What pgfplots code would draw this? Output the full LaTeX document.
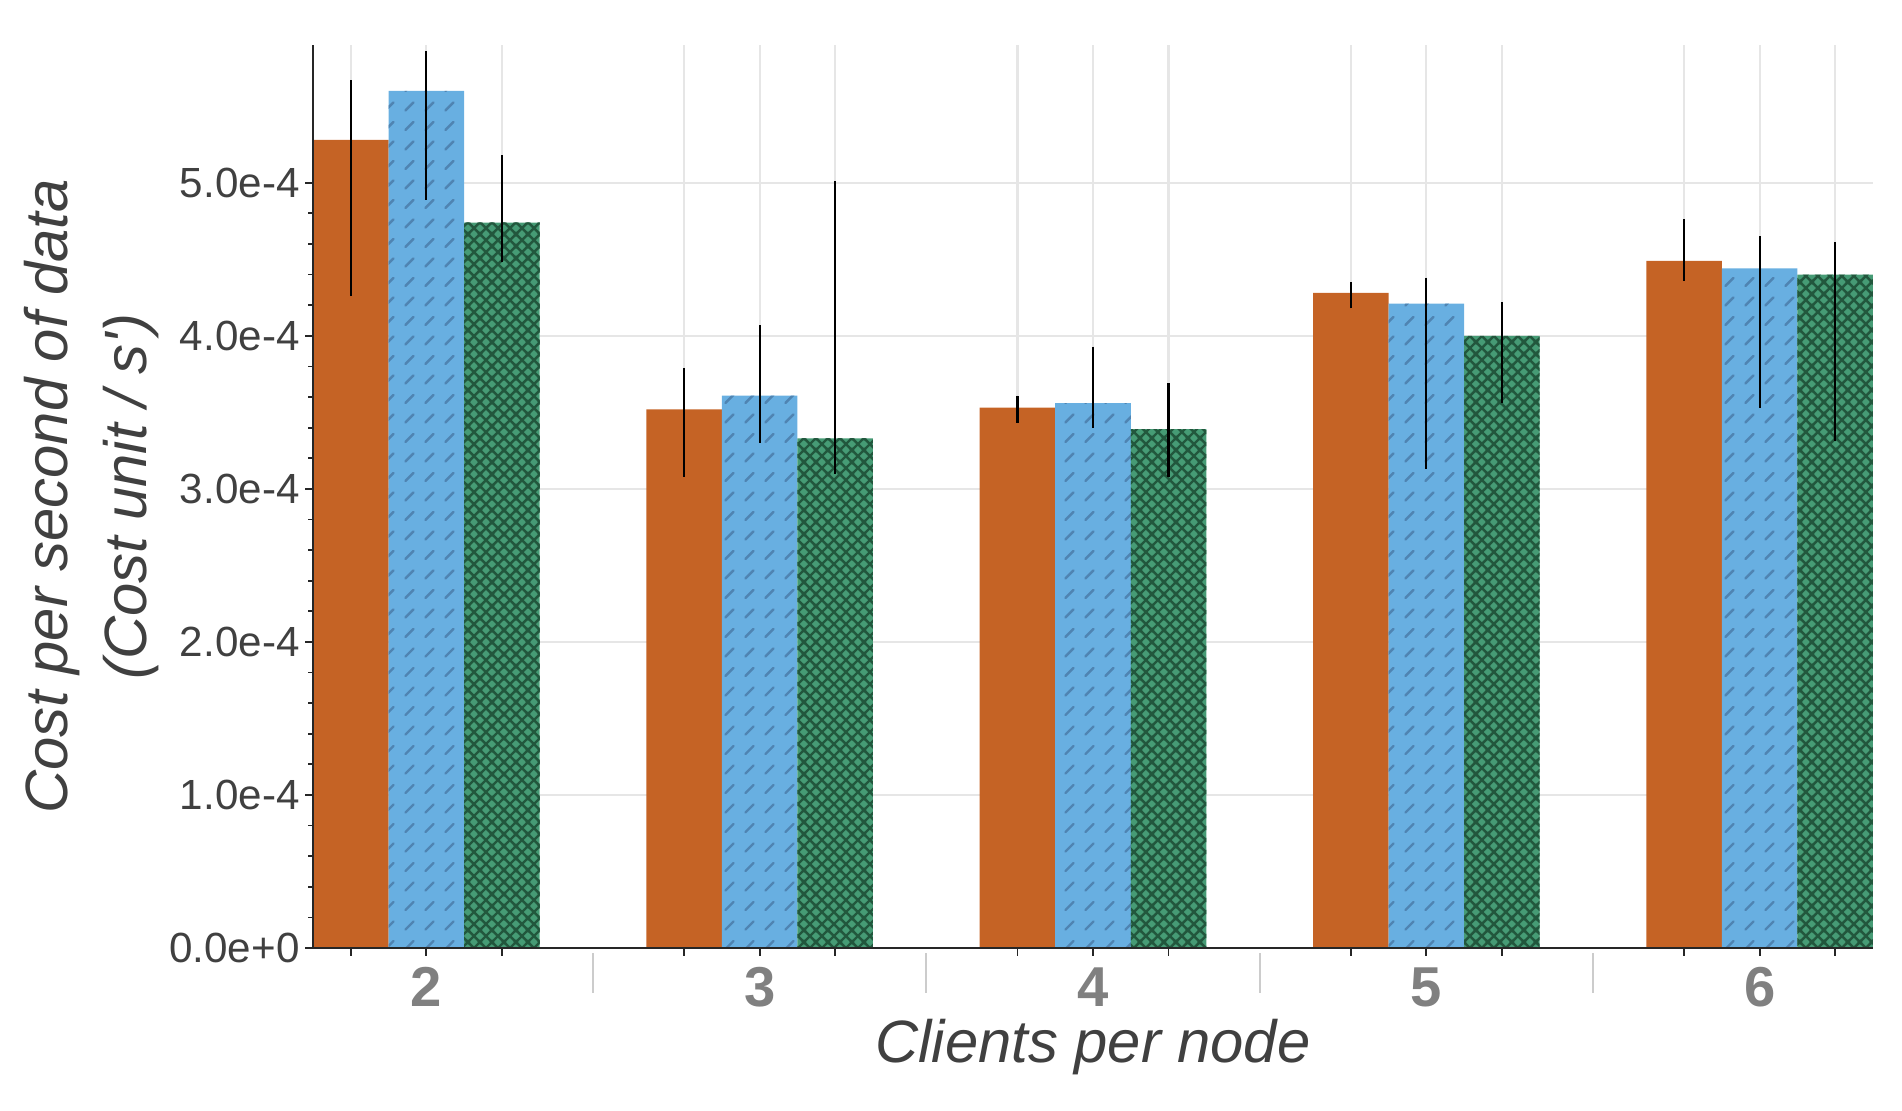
\documentclass[border=0pt]{standalone}
\usepackage{fontspec}
\setmainfont{Liberation Sans}
\usepackage{pgfplots}
\pgfplotsset{compat=1.18}
\usetikzlibrary{patterns}

\definecolor{corange}{HTML}{C56325}
\definecolor{cblue}{HTML}{68AFE1}
\definecolor{cgreen}{HTML}{469B75}
\definecolor{bluehatch}{HTML}{4F84B2}
\definecolor{greenhatch}{HTML}{22573D}
\definecolor{gridgray}{HTML}{E6E6E6}
\definecolor{sepgray}{HTML}{CCCCCC}
\definecolor{txtgray}{HTML}{404040}
\definecolor{grplabel}{HTML}{808080}

% short "/" dashes on the blue bars
\pgfdeclarepatternformonly{slashdash}{\pgfqpoint{-1pt}{-1pt}}{\pgfpoint{0.21cm}{0.21cm}}{\pgfpoint{0.2cm}{0.195cm}}{%
  \pgfsetlinewidth{0.7pt}\pgfsetroundcap
  \pgfpathmoveto{\pgfpoint{0.055cm}{0.05cm}}
  \pgfpathlineto{\pgfpoint{0.135cm}{0.13cm}}
  \pgfusepath{stroke}}

% diagonal cross hatch on the green bars
\pgfdeclarepatternformonly{xhatch}{\pgfqpoint{-1pt}{-1pt}}{\pgfpoint{0.12cm+1pt}{0.12cm+1pt}}{\pgfpoint{0.12cm}{0.12cm}}{%
  \pgfsetlinewidth{0.7pt}
  \pgfpathmoveto{\pgfpoint{-0.5pt}{-0.5pt}}
  \pgfpathlineto{\pgfpoint{0.12cm+0.5pt}{0.12cm+0.5pt}}
  \pgfpathmoveto{\pgfpoint{-0.5pt}{0.12cm+0.5pt}}
  \pgfpathlineto{\pgfpoint{0.12cm+0.5pt}{-0.5pt}}
  \pgfusepath{stroke}}

\pgfplotsset{
  errs/.style={error bars/.cd, y dir=both, y explicit, error mark=none,
    error bar style={line width=0.6pt, black}},
}

\begin{document}
\begin{tikzpicture}
\useasboundingbox (-3.13,-1.62) rectangle (15.89,9.48);
\begin{axis}[
    at={(0,0)}, anchor=south west,
    scale only axis,
    width=15.6cm, height=9.03cm,
    xmin=1.66, xmax=6.34,
    ymin=0, ymax=5.9e-4,
    axis lines*=left,
    axis line style={line width=0.6pt, draw=black!85},
    tick align=outside,
    tick style={line width=0.5pt, black!85},
    major tick length=0.075cm,
    minor tick length=0.045cm,
    xtick={1.7734,2,2.2266,2.7734,3,3.2266,3.7734,4,4.2266,4.7734,5,5.2266,5.7734,6,6.2266},
    xticklabels={},
    ytick={0,1e-4,2e-4,3e-4,4e-4,5e-4},
    yticklabels={0.0e+0,1.0e-4,2.0e-4,3.0e-4,4.0e-4,5.0e-4},
    scaled y ticks=false,
    minor y tick num=4,
    xmajorgrids, ymajorgrids,
    major grid style={line width=0.6pt, draw=gridgray},
    yticklabel style={font=\fontsize{12}{14}\selectfont, text=txtgray, inner xsep=1.5pt},
    ylabel={Cost per second of data\\(Cost unit / s\textquotesingle)},
    ylabel style={font=\itshape\fontsize{17}{22.5}\selectfont, text=txtgray, align=center,
      at={(axis description cs:-0.1417,0.5)}, anchor=center},
    xlabel={Clients per node},
    xlabel style={font=\itshape\fontsize{17}{20}\selectfont, text=txtgray,
      at={(axis description cs:0.5,0)}, anchor=base, yshift=-1.14cm},
    clip=false,
]

% series 1 (orange), left bar of each group
\addplot[ybar, bar width=0.2266, bar shift=0, fill=corange, draw=none, errs]
coordinates {
  (1.7734,5.28e-4) += (0,0.39e-4) -= (0,1.02e-4)
  (2.7734,3.52e-4) += (0,0.27e-4) -= (0,0.44e-4)
  (3.7734,3.53e-4) += (0,0.08e-4) -= (0,0.10e-4)
  (4.7734,4.28e-4) += (0,0.07e-4) -= (0,0.10e-4)
  (5.7734,4.49e-4) += (0,0.27e-4) -= (0,0.13e-4)
};

% series 2 (blue, dashed hatch), middle bar
\addplot[ybar, bar width=0.2266, bar shift=0, fill=cblue, draw=none,
  postaction={pattern=slashdash, pattern color=bluehatch}, errs]
coordinates {
  (2,5.60e-4) += (0,0.26e-4) -= (0,0.71e-4)
  (3,3.61e-4) += (0,0.46e-4) -= (0,0.31e-4)
  (4,3.56e-4) += (0,0.37e-4) -= (0,0.16e-4)
  (5,4.21e-4) += (0,0.17e-4) -= (0,1.08e-4)
  (6,4.44e-4) += (0,0.21e-4) -= (0,0.91e-4)
};

% series 3 (green, cross hatch), right bar
\addplot[ybar, bar width=0.2266, bar shift=0, fill=cgreen, draw=none,
  postaction={pattern=xhatch, pattern color=greenhatch}, errs]
coordinates {
  (2.2266,4.74e-4) += (0,0.44e-4) -= (0,0.26e-4)
  (3.2266,3.33e-4) += (0,1.68e-4) -= (0,0.23e-4)
  (4.2266,3.39e-4) += (0,0.30e-4) -= (0,0.31e-4)
  (5.2266,4.00e-4) += (0,0.22e-4) -= (0,0.44e-4)
  (6.2266,4.40e-4) += (0,0.21e-4) -= (0,1.09e-4)
};

% group labels and separators under the axis
\pgfplotsinvokeforeach{2,3,4,5,6}{
  \node[anchor=base, font=\bfseries\fontsize{16}{18}\selectfont, text=grplabel, yshift=-0.58cm]
    at (axis cs:#1,0) {#1};
}
\pgfplotsinvokeforeach{2.5,3.5,4.5,5.5}{
  \draw[sepgray, line width=0.6pt] ([yshift=-0.05cm]axis cs:#1,0) -- ([yshift=-0.45cm]axis cs:#1,0);
}

% spines on top of the bars
\draw[line width=0.6pt, black!85] (rel axis cs:0,1) -- (rel axis cs:0,0) -- (rel axis cs:1,0);
\end{axis}
\end{tikzpicture}
\end{document}
